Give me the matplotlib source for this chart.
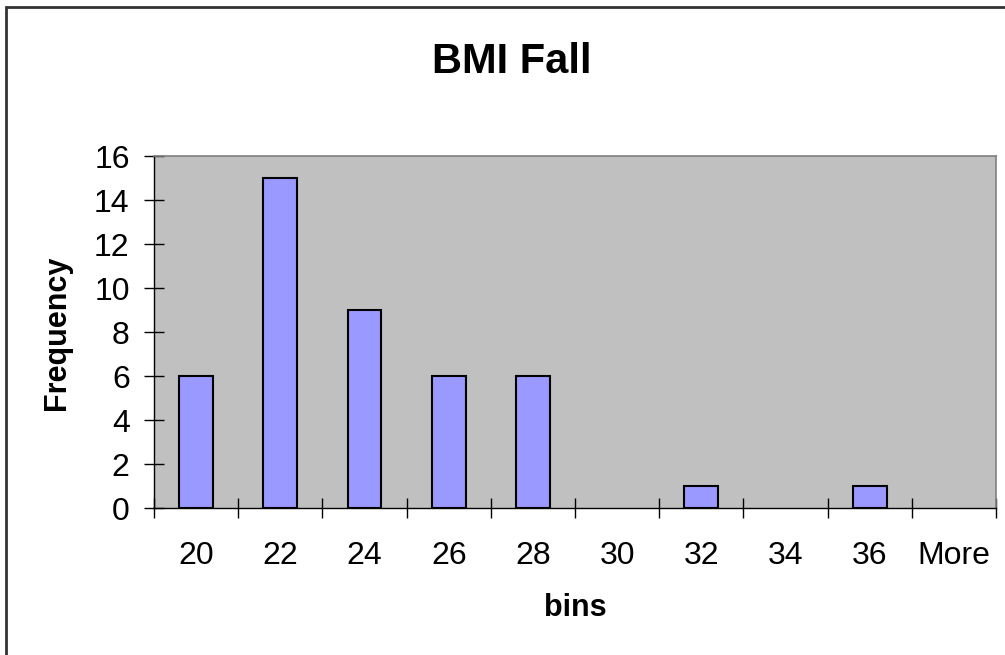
import matplotlib.pyplot as plt
from matplotlib.patches import Rectangle

bins = ['20', '22', '24', '26', '28', '30', '32', '34', '36', 'More']
freq = [6, 15, 9, 6, 6, 0, 1, 0, 1, 0]

plt.rcParams['font.family'] = ['Liberation Sans', 'DejaVu Sans']

fig = plt.figure(figsize=(10.05, 6.55), dpi=100)
ax = fig.add_axes([154 / 1005, 1 - 508 / 655, (996 - 154) / 1005, (508 - 156) / 655])
ax.set_facecolor('#C0C0C0')

x = list(range(len(bins)))
# empty bins draw nothing, like in Excel
lw = [1.5 if f > 0 else 0 for f in freq]
ax.bar(x, freq, width=0.4, color='#9999FF', edgecolor='black', linewidth=lw, zorder=3)

ax.set_xlim(-0.5, len(bins) - 0.5)
ax.set_ylim(0, 16)
ax.set_yticks(range(0, 17, 2))

# boundaries get the ticks, centers get the labels
ax.set_xticks([i - 0.5 for i in range(len(bins) + 1)])
ax.set_xticklabels([])
ax.set_xticks(x, minor=True)
ax.set_xticklabels(bins, minor=True)
ax.tick_params(axis='x', which='major', direction='inout', length=15, width=1)
ax.tick_params(axis='x', which='minor', length=0, pad=24, labelsize=23)
ax.tick_params(axis='y', direction='inout', length=15, width=1, pad=10, labelsize=23)

for side in ['top', 'right']:
    ax.spines[side].set_color('#808080')
    ax.spines[side].set_linewidth(1.2)
for side in ['left', 'bottom']:
    ax.spines[side].set_color('black')
    ax.spines[side].set_linewidth(1)

fig.text(512 / 1005, 1 - 62 / 655, 'BMI Fall', ha='center', va='center', fontsize=30, fontweight='bold')
fig.text(575 / 1005, 1 - 608 / 655, 'bins', ha='center', va='center', fontsize=22, fontweight='bold')
fig.text(57 / 1005, 1 - 333 / 655, 'Frequency', ha='center', va='center', fontsize=22,
         fontweight='bold', rotation=90)

# outer chart border (only left and top visible)
fig.patches.append(Rectangle((6 / 1005, -0.1), 1.2, 1 - 7 / 655 + 0.1, transform=fig.transFigure,
                             fill=False, edgecolor='#333333', linewidth=2))

fig.savefig('out.png', dpi=100)
